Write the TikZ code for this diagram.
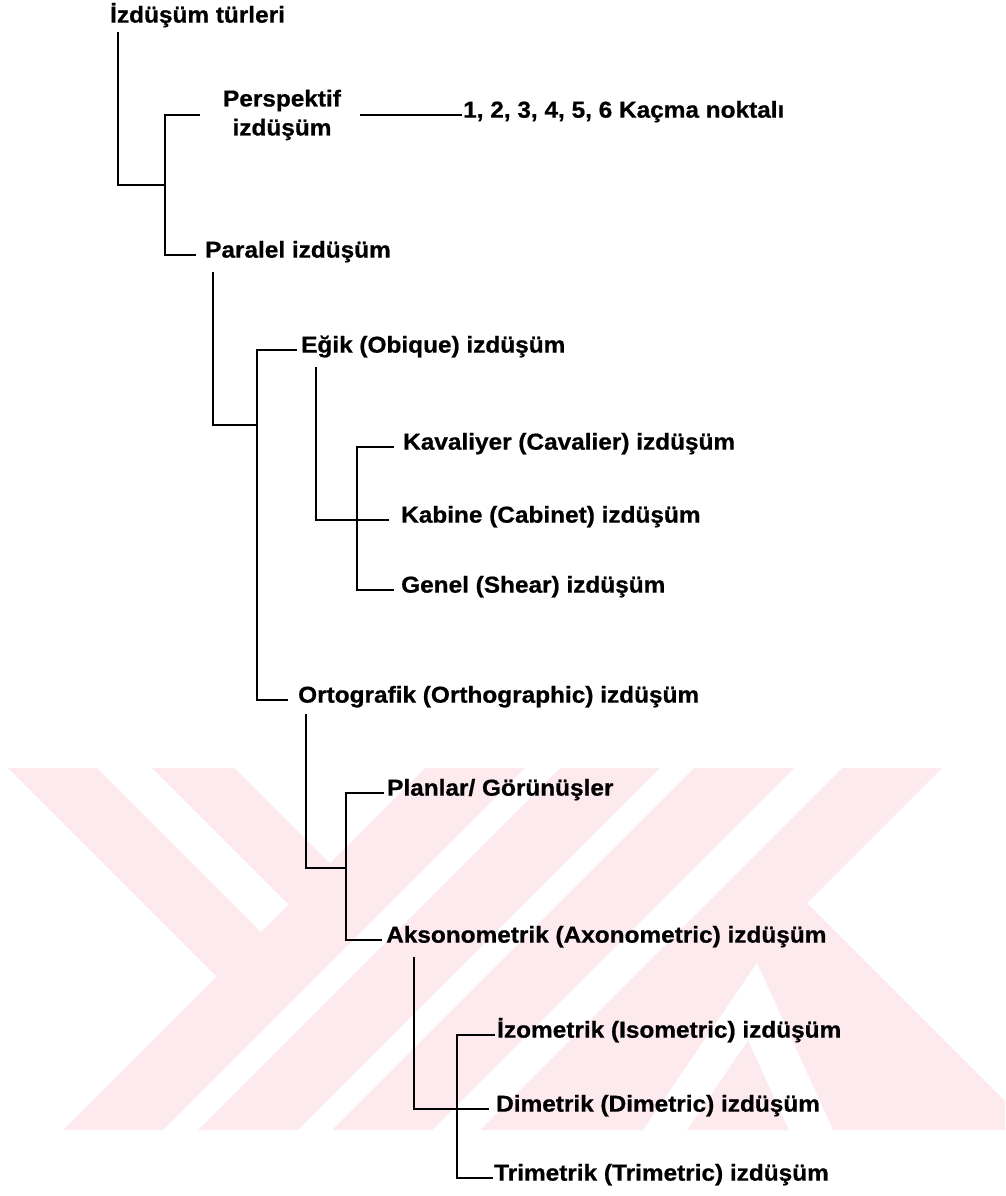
\documentclass[tikz,border=0pt]{standalone}
\usepackage{fontspec}
\setmainfont[FakeStretch=1.06, BoldFeatures={FakeBold=0.8}]{Liberation Sans}
\usetikzlibrary{calc}
\definecolor{wmpink}{RGB}{253,234,238}
\tikzset{
  lbl/.style = {anchor=mid west, inner sep=0pt, font=\fontsize{23}{29}\selectfont\bfseries},
  br/.style = {line width=1.4pt, line cap=rect}
}

\begin{document}
\begin{tikzpicture}[x=1pt,y=-1pt]
  \useasboundingbox (0,0) rectangle (1005,1196);
  %%% watermark
  \begin{scope}[fill=wmpink]
    \fill (8,768) -- (97,768) -- (261,932) -- (217,977) -- cycle;
    \fill (152,768) -- (235,768) -- (330,863) -- (288.5,904.5) -- cycle;
    \foreach \xx in {425,560,694,842} {
      \fill (\xx,768) -- (\xx+100,768) -- (\xx-262,1130) -- (\xx-362,1130) -- cycle;
    }
    \fill (807,903) -- (1005,1101) -- (1005,1130) -- (580,1130) -- (752,958) -- cycle;
    \fill[white] (757,963) -- (833,1130) -- (789,1130) -- (748,1040)
      -- (687,1130) -- (643,1130) -- cycle;
  \end{scope}
  %%% labels
  \node[lbl] (root) at (110,20) {İzdüşüm türleri};
  \node[lbl, anchor=center, align=center] (persp) at (282,115) {Perspektif\\izdüşüm};
  \node[lbl] (kacma) at (463,115) {1, 2, 3, 4, 5, 6 Kaçma noktalı};
  \node[lbl] (paralel) at (205,255) {Paralel izdüşüm};
  \node[lbl] (egik) at (301,350) {Eğik (Obique) izdüşüm};
  \node[lbl] (kaval) at (403,447) {Kavaliyer (Cavalier) izdüşüm};
  \node[lbl] (kabine) at (401,520) {Kabine (Cabinet) izdüşüm};
  \node[lbl] (genel) at (401,590) {Genel (Shear) izdüşüm};
  \node[lbl] (orto) at (298,700) {Ortografik (Orthographic) izdüşüm};
  \node[lbl] (planlar) at (387,793) {Planlar/ Görünüşler};
  \node[lbl] (akso) at (386,940) {Aksonometrik (Axonometric) izdüşüm};
  \node[lbl] (izo) at (497,1035) {İzometrik (Isometric) izdüşüm};
  \node[lbl] (dime) at (496,1109) {Dimetrik (Dimetric) izdüşüm};
  \node[lbl] (trime) at (494,1178) {Trimetrik (Trimetric) izdüşüm};
  %%% top bracket
  \coordinate (r1) at (165,185);
  \draw[br] ([shift={(8pt,-13pt)}]root.mid west) |- (r1);
  \draw[br] ([xshift=-24pt]persp.west) -| (r1) |- ([xshift=-10pt]paralel.mid west);
  \draw[br] ([xshift=20pt]persp.east) -- ([xshift=-2pt]kacma.mid west);
  %%% paralel
  \coordinate (r2) at (257,425);
  \draw[br] ([shift={(8pt,-18pt)}]paralel.mid west) |- (r2);
  \draw[br] ([xshift=-5pt]egik.mid west) -| (r2) |- ([xshift=-11pt]orto.mid west);
  %%% egik
  \coordinate (r3) at (357,520);
  \draw[br] ([shift={(15pt,-18pt)}]egik.mid west) |- ([xshift=-13pt]kabine.mid west);
  \draw[br] ([xshift=-10pt]kaval.mid west) -| (r3) |- ([xshift=-8pt]genel.mid west);
  %%% ortografik
  \coordinate (r4) at (346,868);
  \draw[br] ([shift={(8pt,-15pt)}]orto.mid west) |- (r4);
  \draw[br] ([xshift=-4pt]planlar.mid west) -| (r4) |- ([xshift=-5pt]akso.mid west);
  %%% aksonometrik
  \coordinate (r5) at (457,1109);
  \draw[br] ([shift={(28pt,-18pt)}]akso.mid west) |- ([xshift=-8pt]dime.mid west);
  \draw[br] ([xshift=-3pt]izo.mid west) -| (r5) |- ([xshift=-2pt]trime.mid west);
\end{tikzpicture}
\end{document}
